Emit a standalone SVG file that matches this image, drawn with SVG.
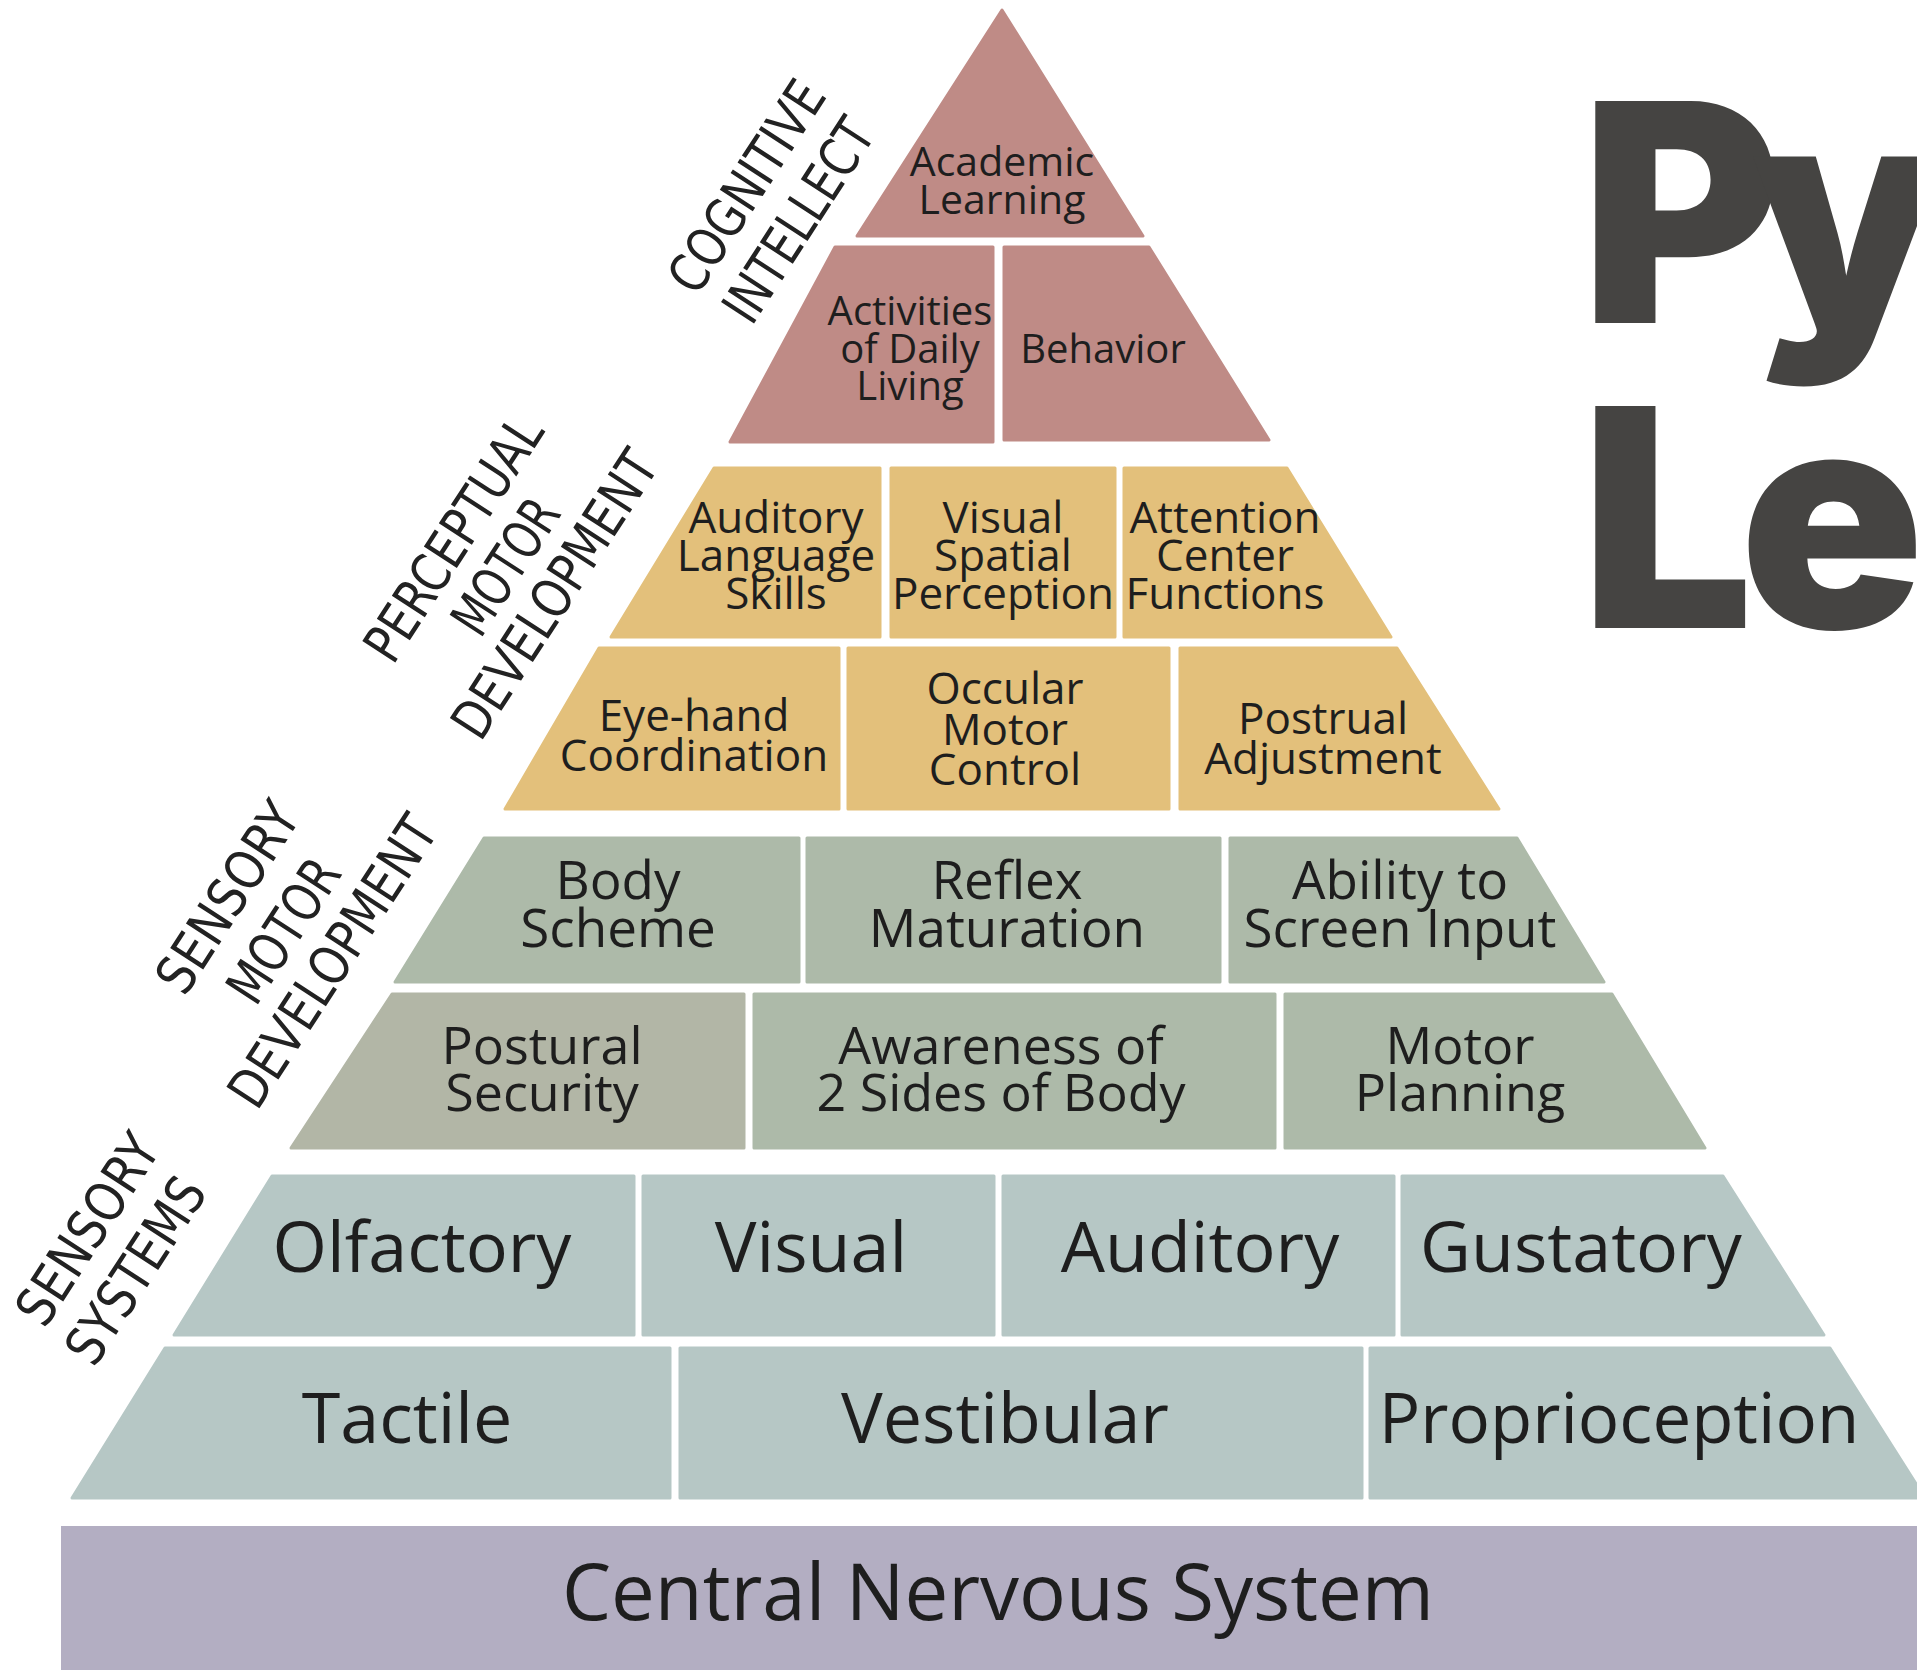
<svg xmlns="http://www.w3.org/2000/svg" width="1917" height="1670" viewBox="0 0 1917 1670">
<style>
  .t { stroke-width: 3; stroke-linejoin: round; }
  .rose { fill: #bf8b86; stroke: #bf8b86; }
  .gold { fill: #e3c07b; stroke: #e3c07b; }
  .sage { fill: #adbaa9; stroke: #adbaa9; }
  .sage2 { fill: #b2b6a6; stroke: #b2b6a6; }
  .blue { fill: #b6c7c5; stroke: #b6c7c5; }
  .cns { fill: #b3aec2; }
  .lbl { font-family: "Open Sans", "Liberation Sans", sans-serif; fill: #1e1e1e; text-anchor: middle; }
  .side { font-family: "Liberation Sans Narrow", "DejaVu Sans Condensed", "Liberation Sans", sans-serif; font-size: 54px; fill: #222; text-anchor: middle; }
  .title { font-family: Inter, "Liberation Sans", sans-serif; font-weight: 900; font-size: 305px; fill: #454442; }
</style>
<rect width="1917" height="1670" fill="#ffffff"/>

<g id="title">
  <text class="title" x="1581" y="323" letter-spacing="-30">Py</text>
  <text class="title" x="1581" y="628" letter-spacing="-14">Lea</text>
</g>

<g id="connectors"></g>

<g id="academic-learning">
  <polygon class="t rose" points="1002,10 1143,236 857,236"/>
  <text class="lbl" font-size="41" x="1002" y="176">Academic</text>
  <text class="lbl" font-size="41" x="1002" y="214">Learning</text>
</g>
<g id="activities-daily-living">
  <polygon class="t rose" points="835,247 993,247 993,442 730,442"/>
  <text class="lbl" font-size="40" x="910" y="325">Activities</text>
  <text class="lbl" font-size="40" x="910" y="363">of Daily</text>
  <text class="lbl" font-size="40" x="910" y="400">Living</text>
</g>
<g id="behavior">
  <polygon class="t rose" points="1004,247 1149,247 1269,440 1004,440"/>
  <text class="lbl" font-size="40" x="1103" y="363">Behavior</text>
</g>

<g id="auditory-language-skills">
  <polygon class="t gold" points="714,468 880,468 880,637 611,637"/>
  <text class="lbl" font-size="44" x="776" y="533">Auditory</text>
  <text class="lbl" font-size="44" x="776" y="571">Language</text>
  <text class="lbl" font-size="44" x="776" y="609">Skills</text>
</g>
<g id="visual-spatial-perception">
  <polygon class="t gold" points="891,468 1115,468 1115,637 891,637"/>
  <text class="lbl" font-size="44" x="1003" y="533">Visual</text>
  <text class="lbl" font-size="44" x="1003" y="571">Spatial</text>
  <text class="lbl" font-size="44" x="1003" y="609">Perception</text>
</g>
<g id="attention-center-functions">
  <polygon class="t gold" points="1124,468 1287,468 1391,637 1124,637"/>
  <text class="lbl" font-size="44" x="1225" y="533">Attention</text>
  <text class="lbl" font-size="44" x="1225" y="571">Center</text>
  <text class="lbl" font-size="44" x="1225" y="609">Functions</text>
</g>

<g id="eye-hand-coordination">
  <polygon class="t gold" points="599,648 839,648 839,809 505,809"/>
  <text class="lbl" font-size="44" x="694" y="731">Eye-hand</text>
  <text class="lbl" font-size="44" x="694" y="771">Coordination</text>
</g>
<g id="occular-motor-control">
  <polygon class="t gold" points="848,648 1169,648 1169,809 848,809"/>
  <text class="lbl" font-size="44" x="1005" y="704">Occular</text>
  <text class="lbl" font-size="44" x="1005" y="745">Motor</text>
  <text class="lbl" font-size="44" x="1005" y="785">Control</text>
</g>
<g id="postrual-adjustment">
  <polygon class="t gold" points="1180,648 1397,648 1499,809 1180,809"/>
  <text class="lbl" font-size="44" x="1323" y="734">Postrual</text>
  <text class="lbl" font-size="44" x="1323" y="774">Adjustment</text>
</g>

<g id="body-scheme">
  <polygon class="t sage" points="484,838 799,838 799,982 395,982"/>
  <text class="lbl" font-size="53" x="618" y="899">Body</text>
  <text class="lbl" font-size="53" x="618" y="947">Scheme</text>
</g>
<g id="reflex-maturation">
  <polygon class="t sage" points="807,838 1220,838 1220,982 807,982"/>
  <text class="lbl" font-size="53" x="1007" y="899">Reflex</text>
  <text class="lbl" font-size="53" x="1007" y="947">Maturation</text>
</g>
<g id="ability-screen-input">
  <polygon class="t sage" points="1230,838 1517,838 1604,982 1230,982"/>
  <text class="lbl" font-size="53" x="1400" y="899">Ability to</text>
  <text class="lbl" font-size="53" x="1400" y="947">Screen Input</text>
</g>

<g id="postural-security">
  <polygon class="t sage2" points="392,994 744,994 744,1148 291,1148"/>
  <text class="lbl" font-size="52" x="542" y="1064">Postural</text>
  <text class="lbl" font-size="52" x="542" y="1111">Security</text>
</g>
<g id="awareness-two-sides">
  <polygon class="t sage" points="754,994 1275,994 1275,1148 754,1148"/>
  <text class="lbl" font-size="52" x="1001" y="1064">Awareness of</text>
  <text class="lbl" font-size="52" x="1001" y="1111">2 Sides of Body</text>
</g>
<g id="motor-planning">
  <polygon class="t sage" points="1285,994 1612,994 1705,1148 1285,1148"/>
  <text class="lbl" font-size="52" x="1460" y="1064">Motor</text>
  <text class="lbl" font-size="52" x="1460" y="1111">Planning</text>
</g>

<g id="olfactory">
  <polygon class="t blue" points="272,1176 634,1176 634,1335 174,1335"/>
  <text class="lbl" font-size="70" x="422" y="1272">Olfactory</text>
</g>
<g id="visual">
  <polygon class="t blue" points="643,1176 994,1176 994,1335 643,1335"/>
  <text class="lbl" font-size="70" x="811" y="1272">Visual</text>
</g>
<g id="auditory">
  <polygon class="t blue" points="1003,1176 1394,1176 1394,1335 1003,1335"/>
  <text class="lbl" font-size="70" x="1200" y="1272">Auditory</text>
</g>
<g id="gustatory">
  <polygon class="t blue" points="1402,1176 1723,1176 1824,1335 1402,1335"/>
  <text class="lbl" font-size="70" x="1581" y="1272">Gustatory</text>
</g>

<g id="tactile">
  <polygon class="t blue" points="165,1348 670,1348 670,1498 72,1498"/>
  <text class="lbl" font-size="70" x="407" y="1443">Tactile</text>
</g>
<g id="vestibular">
  <polygon class="t blue" points="680,1348 1362,1348 1362,1498 680,1498"/>
  <text class="lbl" font-size="70" x="1005" y="1443">Vestibular</text>
</g>
<g id="proprioception">
  <polygon class="t blue" points="1370,1348 1830,1348 1925,1498 1370,1498"/>
  <text class="lbl" font-size="69" x="1619" y="1443">Proprioception</text>
</g>

<g id="central-nervous-system">
  <rect class="cns" x="61" y="1526" width="1870" height="150"/>
  <text class="lbl" font-size="78" x="998" y="1620">Central Nervous System</text>
</g>

<g id="label-cognitive-intellect">
  <text class="side" transform="translate(746,186) rotate(-57)" dy="0.36em" textLength="240" lengthAdjust="spacingAndGlyphs">COGNITIVE</text>
  <text class="side" transform="translate(798,220) rotate(-57)" dy="0.36em" textLength="230" lengthAdjust="spacingAndGlyphs">INTELLECT</text>
</g>
<g id="label-perceptual-motor">
  <text class="side" transform="translate(453,538) rotate(-57)" dy="0.36em" textLength="280" lengthAdjust="spacingAndGlyphs">PERCEPTUAL</text>
  <text class="side" transform="translate(505,566) rotate(-57)" dy="0.36em" textLength="150" lengthAdjust="spacingAndGlyphs">MOTOR</text>
  <text class="side" transform="translate(554,594) rotate(-57)" dy="0.36em" textLength="330" lengthAdjust="spacingAndGlyphs">DEVELOPMENT</text>
</g>
<g id="label-sensory-motor">
  <text class="side" transform="translate(227,897) rotate(-57)" dy="0.36em" textLength="215" lengthAdjust="spacingAndGlyphs">SENSORY</text>
  <text class="side" transform="translate(283,930) rotate(-57)" dy="0.36em" textLength="160" lengthAdjust="spacingAndGlyphs">MOTOR</text>
  <text class="side" transform="translate(332,961) rotate(-57)" dy="0.36em" textLength="335" lengthAdjust="spacingAndGlyphs">DEVELOPMENT</text>
</g>
<g id="label-sensory-systems">
  <text class="side" transform="translate(87,1229) rotate(-57)" dy="0.36em" textLength="215" lengthAdjust="spacingAndGlyphs">SENSORY</text>
  <text class="side" transform="translate(135,1270) rotate(-57)" dy="0.36em" textLength="210" lengthAdjust="spacingAndGlyphs">SYSTEMS</text>
</g>
</svg>
